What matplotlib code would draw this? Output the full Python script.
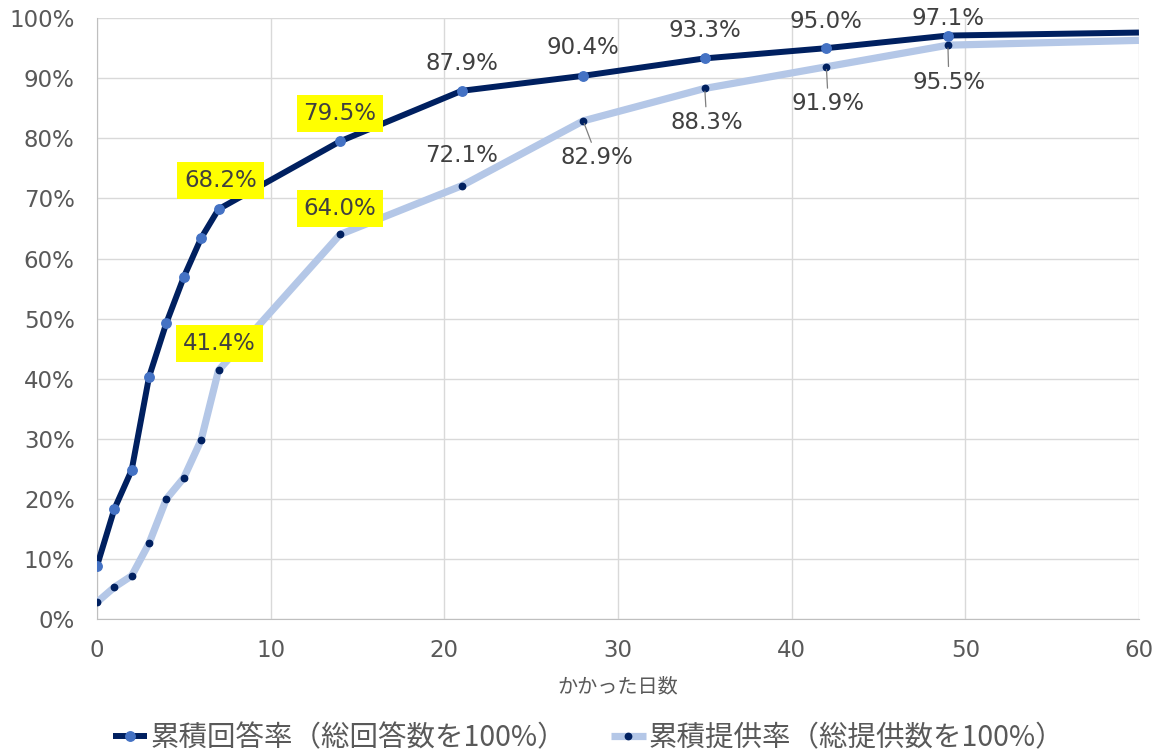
import matplotlib.pyplot as plt
import numpy as np

plt.rcParams['font.family'] = ['DejaVu Sans', 'Noto Sans CJK JP']

# days elapsed
days = [0, 1, 2, 3, 4, 5, 6, 7, 14, 21, 28, 35, 42, 49, 60]
# cumulative answer rate (%)
answer_rate = [8.8, 18.3, 24.8, 40.3, 49.3, 56.9, 63.4, 68.2, 79.5, 87.9, 90.4, 93.3, 95.0, 97.1, 97.6]
# cumulative provision rate (%)
provide_rate = [2.8, 5.3, 7.2, 12.6, 20.0, 23.5, 29.8, 41.4, 64.0, 72.1, 82.9, 88.3, 91.9, 95.5, 96.3]

answer_name = '累積回答率（総回答数を100%）'
provide_name = '累積提供率（総提供数を100%）'

# which points get a label, label offset in pixels, highlighted or not, leader line
answer_labels = {7: ((2, 29), True), 14: ((0, 28), True), 21: ((0, 27), False),
                 28: ((0, 28), False), 35: ((0, 28), False), 42: ((0, 27), False),
                 49: ((0, 17), False)}
provide_labels = {7: ((1, 27), True, False), 14: ((0, 26), True, False),
                  21: ((0, 30), False, False), 28: ((14, -37), False, True),
                  35: ((2, -34), False, True), 42: ((2, -37), False, True),
                  49: ((1, -37), False, True)}

dark = '#002060'
mid = '#4472C4'
light = '#B4C7E7'
txt = '#404040'

fig = plt.figure(figsize=(11.61, 7.55), dpi=100)
ax = fig.add_axes([0.0835, 0.180, 0.8975, 0.796])

ax.plot(days, provide_rate, color=light, lw=5.2, marker='o', ms=4.6,
        mfc=dark, mec=dark, markevery=list(range(len(days) - 1)),
        solid_capstyle='butt', label=provide_name, zorder=3)
ax.plot(days, answer_rate, color=dark, lw=4.3, marker='o', ms=6.8,
        mfc=mid, mec=mid, markevery=list(range(len(days) - 1)),
        solid_capstyle='butt', label=answer_name, zorder=4)

yellow = dict(boxstyle='square,pad=0.3', fc='#FFFF00', ec='none')
for d, v in zip(days, answer_rate):
    if d in answer_labels:
        off, hl = answer_labels[d]
        ax.annotate(f'{v:.1f}%', (d, v), xytext=off, textcoords='offset pixels',
                    ha='center', va='center', fontsize=16.5, color=txt,
                    bbox=yellow if hl else None, zorder=6)
for d, v in zip(days, provide_rate):
    if d in provide_labels:
        off, hl, leader = provide_labels[d]
        arrow = dict(arrowstyle='-', color='#7F7F7F', lw=0.9,
                     shrinkA=1, shrinkB=2) if leader else None
        ax.annotate(f'{v:.1f}%', (d, v), xytext=off, textcoords='offset pixels',
                    ha='center', va='center', fontsize=16.5, color=txt,
                    bbox=yellow if hl else None, arrowprops=arrow, zorder=6)

ax.set_xlim(0, 60)
ax.set_ylim(0, 100)
ax.set_xticks(np.arange(0, 61, 10))
ax.set_yticks(np.arange(0, 101, 10))
ax.set_yticklabels([f'{t}%' for t in range(0, 101, 10)])
ax.tick_params(length=0, labelsize=16.5, labelcolor='#595959', pad=14)
ax.tick_params(axis='y', pad=16)
ax.grid(True, color='#D9D9D9', lw=1)
ax.set_axisbelow(True)
for s in ['top', 'right']:
    ax.spines[s].set_visible(False)
for s in ['left', 'bottom']:
    ax.spines[s].set_color('#BFBFBF')

ax.set_xlabel('かかった日数', fontsize=14.5, color='#595959',
              family=['Noto Sans CJK JP'], labelpad=11)

h, l = ax.get_legend_handles_labels()
fig.legend(h[::-1], l[::-1], loc='center', bbox_to_anchor=(0.507, 0.022), ncol=2,
           frameon=False, prop={'family': 'Noto Sans CJK JP', 'size': 20.5},
           labelcolor='#595959', handlelength=1.2, handletextpad=0.1,
           columnspacing=1.6)

fig.savefig('out.png', dpi=100)
